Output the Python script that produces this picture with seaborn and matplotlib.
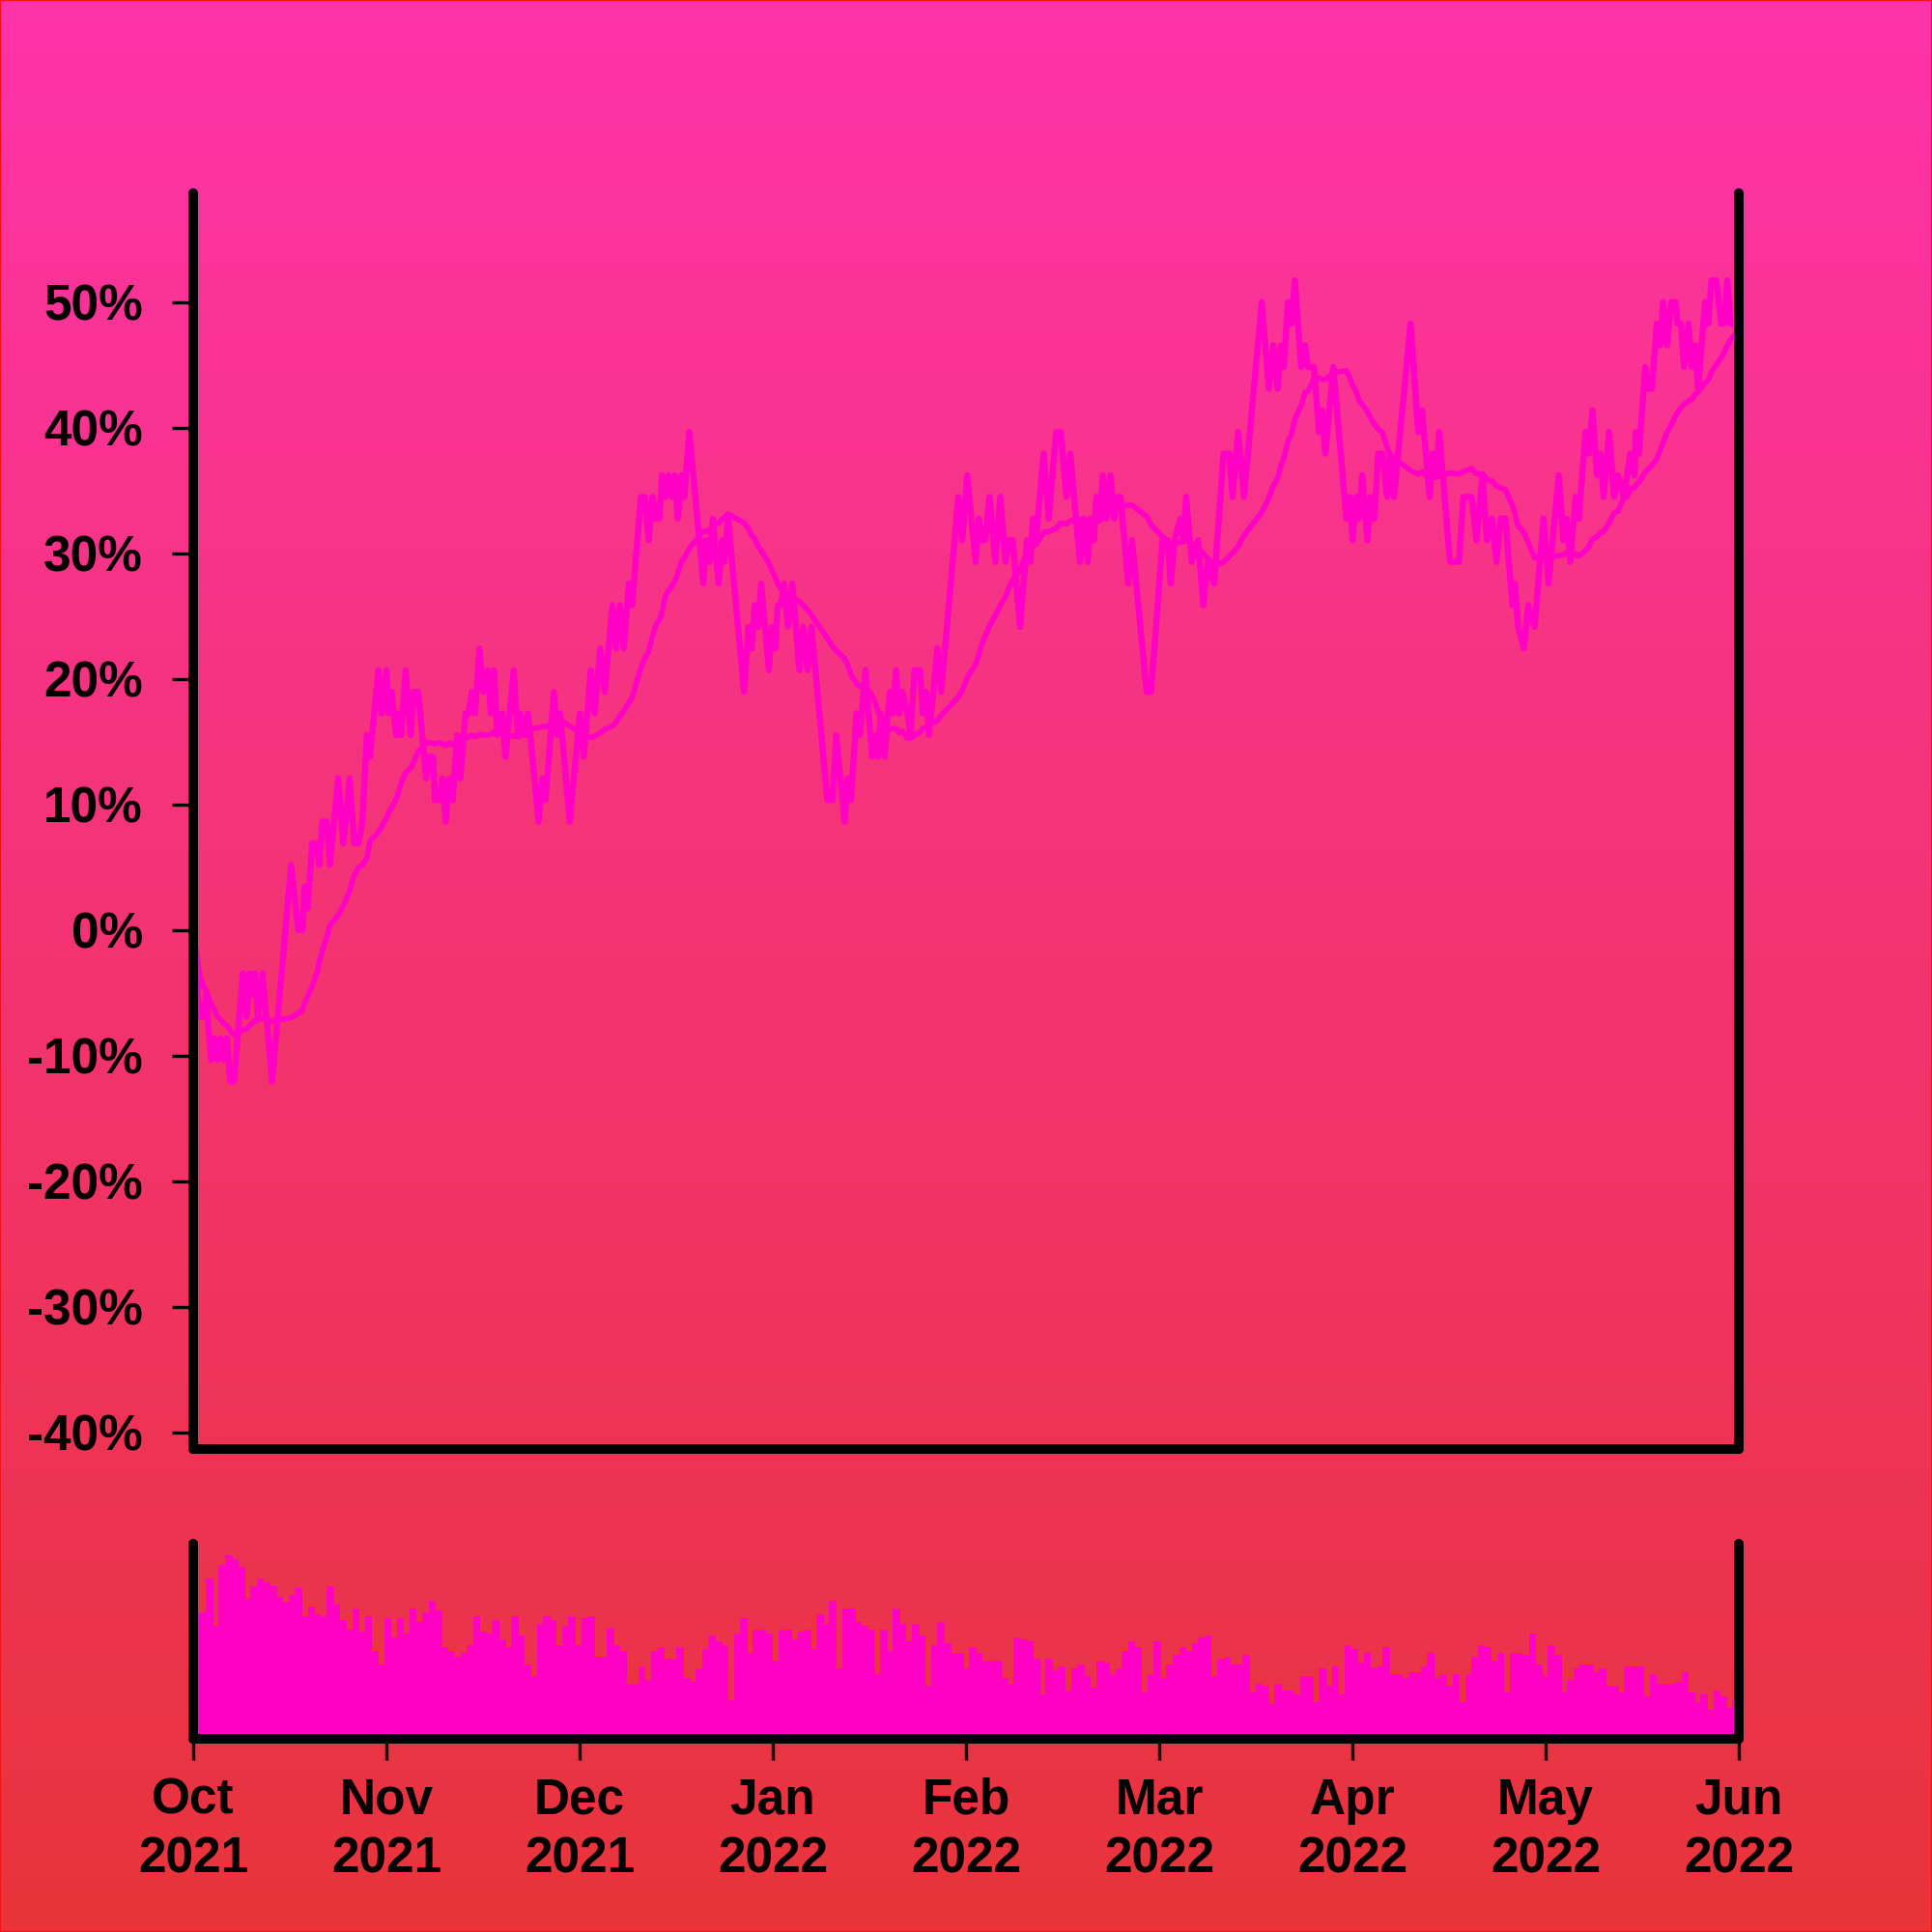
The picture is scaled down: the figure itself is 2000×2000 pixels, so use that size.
import numpy as np
import pandas as pd
import matplotlib
matplotlib.use("Agg")
import matplotlib.pyplot as plt
import seaborn as sns
from matplotlib.colors import LinearSegmentedColormap
from matplotlib.patches import Rectangle

# price path: day offset from 2021-10-01 and price step above the opening price
day = [0, 1.0, 1.7, 2.0, 2.8, 3.3, 3.8, 4.3, 4.8, 5.3, 5.8, 6.4, 7.8, 8.4, 8.9, 9.3, 9.7, 10.2, 10.9, 12.4,
       15.4, 16.5, 17.2, 17.5, 18.0, 18.7, 19.5, 19.8, 20.3, 21.0, 21.5, 22.8, 23.6, 24.6, 25.3, 26.0, 26.6, 27.3, 27.8, 29.1,
       29.6, 30.4, 30.7, 31.2, 31.9, 32.4, 32.7, 33.4, 34.2, 34.7, 35.4, 35.7, 36.6, 37.1, 37.7, 38.0, 38.7, 39.2, 39.7, 40.3,
       40.8, 41.5, 42.0, 42.8, 43.3, 43.8, 44.3, 45.0, 45.6, 46.3, 46.8, 47.3, 47.8, 48.6, 49.1, 50.4, 51.0, 51.4, 52.2, 52.6,
       53.0, 54.3, 54.9, 55.4, 56.7, 57.2, 57.7, 59.2, 60.8, 61.4,
       62.5, 63.1, 64.0, 64.7, 65.9, 66.5, 67.1, 67.7, 68.5, 69.0, 70.4, 71.0, 71.6, 72.2, 72.7, 73.3, 73.7, 74.2, 74.7, 75.2,
       75.7, 76.2, 76.8, 77.2, 78.0, 80.2, 80.6, 81.2, 81.7, 82.6, 83.2, 83.5, 84.1, 86.6, 87.3, 87.8, 88.3, 88.8, 89.3, 90.5,
       91.0, 91.5, 91.9, 92.4, 92.9, 93.5, 94.2, 95.3, 95.9, 96.6, 97.2, 99.7, 100.5, 101.1, 102.4, 102.9, 103.4, 104.3, 104.8, 105.7,
       106.7, 107.2, 107.6, 108.1, 108.7, 109.5, 110.0, 110.5, 111.0, 111.5, 112.3, 112.8, 113.4, 114.3, 114.7, 115.2, 115.7, 117.0, 117.6, 120.3,
       120.9, 121.7,
       123.0, 123.5, 124.0, 124.5, 125.2, 126.1, 126.9, 127.7, 128.3, 128.85, 130.0, 131.1, 131.6, 132.0, 132.5, 133.7, 134.5, 135.7, 136.4, 137.3,
       137.9, 139.4, 140.0, 140.65, 141.1, 141.6, 142.0, 142.5, 143.0, 143.6, 144.2, 144.8, 145.3, 145.8, 147.0, 147.6, 149.9, 150.6, 152.4, 153.2,
       153.7, 154.3, 155.2, 155.7, 156.1, 157.0, 158.0, 158.8, 159.5, 160.5, 162.0, 162.9, 163.4, 164.3, 165.2, 168.0, 169.1, 169.8, 170.5, 171.0,
       171.5, 172.1, 172.65, 173.2, 174.2, 174.8, 175.3, 176.2, 177.0, 177.5, 178.0, 179.25, 181.3, 181.8, 182.3, 182.8,
       183.3, 183.8, 184.6, 185.1, 185.7, 186.3, 187.0, 187.7, 188.2, 188.8, 191.4, 192.6, 193.2, 194.4, 194.9, 195.4, 195.9, 197.6, 199.0, 199.7,
       201.0, 201.75, 202.7, 203.4, 204.2, 204.9, 205.55, 206.3, 207.4, 207.8, 208.3, 209.2, 209.9, 210.9, 212.3, 213.1, 214.7, 215.4, 215.9, 216.5,
       217.35, 217.85, 218.9, 219.4, 220.0, 220.7, 221.25, 221.75, 222.6, 223.4, 224.0, 224.9, 225.45, 225.95, 226.6, 226.8, 227.3, 228.3, 228.8, 229.35,
       230.1, 230.6, 231.1, 231.7, 232.4, 233.05, 233.4, 233.9, 234.4, 235.1, 235.6, 236.1, 236.6, 237.7, 238.2, 238.7, 239.5, 240.2, 240.7, 241.2,
       241.7, 243.0]
step = [0, -4, -4, -3, -6, -5, -6, -5, -6, -5, -7, -7, -2, -4, -2, -3, -2, -4, -2, -7,
        3, 0, 0, 2, 1, 4, 4, 3, 5, 5, 3, 7, 4, 7, 4, 4, 5, 9, 8, 12,
        10, 12, 10, 11, 9, 10, 9, 12, 9, 11, 11, 10, 7, 8, 8, 6, 6, 7, 5, 7,
        6, 9, 7, 10, 10, 11, 10, 13, 11, 12, 10, 12, 9, 10, 8, 12, 9, 10, 9, 10,
        9, 5, 7, 6, 11, 9, 10, 5, 10, 8,
        12, 10, 13, 11, 15, 13, 15, 13, 16, 15, 20, 20, 18, 20, 19, 19, 21, 20, 21, 20,
        21, 19, 21, 20, 23, 16, 18, 17, 19, 16, 18, 17, 19, 11, 14, 13, 15, 14, 16, 12,
        14, 13, 15, 15, 16, 14, 16, 12, 14, 12, 14, 6, 6, 9, 5, 7, 6, 10, 9, 12,
        8, 9, 8, 10, 8, 11, 10, 12, 10, 11, 10, 9, 12, 12, 10, 11, 9, 13, 11, 20,
        18, 21,
        17, 19, 18, 18, 20, 17, 20, 17, 18, 18, 14, 18, 17, 19, 18, 22, 19, 23, 23, 20,
        22, 17, 19, 17, 19, 18, 20, 19, 21, 19, 21, 19, 20, 20, 16, 18, 11, 11, 18, 18,
        16, 18, 19, 18, 20, 17, 18, 15, 17, 16, 22, 22, 20, 23, 20, 29, 25, 27, 25, 27,
        26, 29, 28, 30, 26, 27, 26, 26, 23, 24, 22, 26, 19, 20, 18, 20,
        19, 21, 18, 20, 19, 22, 22, 20, 22, 20, 28, 23, 24, 20, 22, 21, 23, 17, 17, 20,
        20, 18, 21, 18, 19, 17, 19, 19, 15, 16, 14, 13, 15, 14, 19, 16, 21, 18, 19, 17,
        20, 19, 23, 22, 24, 21, 22, 20, 23, 20, 21, 20, 21, 22, 21, 23, 22, 26, 25, 25,
        28, 27, 29, 27, 29, 29, 28, 28, 26, 28, 26, 27, 25, 29, 28, 30, 30, 28, 28, 30,
        28, 28]
open_price = 58

# daily volume, relative to the panel height
volume = [65, 65, 82, 58, 89, 94, 92, 88, 72, 78,
          82, 80, 78, 73, 70, 74, 77, 63, 68, 64,
          63, 78, 69, 61, 56, 67, 55, 63, 45, 38,
          62, 52, 62, 54, 67, 60, 65, 71, 66, 47,
          45, 42, 44, 48, 63, 55, 54, 61, 51, 47,
          63, 53, 38, 32, 59, 63, 61, 48, 58, 63,
          48, 62, 63, 42, 42, 57, 48, 45, 28, 28,
          37, 30, 45, 47, 41, 41, 47, 31, 29, 36,
          46, 53, 50, 48, 20, 54, 62, 44, 56, 56,
          54, 40, 56, 56, 51, 55, 56, 46, 64, 59,
          71, 36, 67, 67, 60, 58, 56, 33, 56, 45,
          67, 59, 50, 59, 53, 27, 48, 60, 49, 44,
          44, 36, 47, 44, 40, 40, 40, 31, 28, 52,
          51, 50, 41, 23, 41, 35, 37, 25, 36, 38,
          32, 26, 40, 39, 33, 36, 45, 50, 47, 24,
          33, 50, 31, 38, 43, 47, 45, 49, 52, 53,
          32, 41, 42, 38, 38, 43, 24, 28, 27, 18,
          28, 25, 25, 23, 32, 32, 19, 36, 27, 37,
          23, 48, 46, 39, 44, 36, 37, 47, 33, 33,
          31, 34, 34, 37, 44, 31, 33, 27, 33, 19,
          33, 42, 48, 47, 40, 44, 24, 44, 44, 43,
          54, 38, 32, 48, 43, 24, 30, 36, 38, 38,
          34, 36, 27, 27, 24, 37, 37, 37, 22, 33,
          28, 28, 28, 29, 34, 24, 19, 23, 15, 25,
          22, 16, 20]

month_labels = ["Oct\n2021", "Nov\n2021", "Dec\n2021", "Jan\n2022", "Feb\n2022",
                "Mar\n2022", "Apr\n2022", "May\n2022", "Jun\n2022"]
pct_ticks = [-40, -30, -20, -10, 0, 10, 20, 30, 40, 50]

sns.set_theme(style="white")
plt.rcParams['font.family'] = ['Liberation Sans', 'DejaVu Sans']
plt.rcParams['font.weight'] = 'bold'
plt.rcParams['lines.solid_joinstyle'] = 'round'
plt.rcParams['lines.solid_capstyle'] = 'round'

pink = "#ff00c4"

df = pd.DataFrame({"day": day, "price": open_price + np.array(step)})
df["pct"] = (df["price"] / open_price - 1) * 100
stamp = pd.Timestamp("2021-10-01") + pd.to_timedelta(df["day"], unit="D")
df["ma"] = df.set_index(stamp)["pct"].rolling("15D", min_periods=1).mean().values

vol = pd.DataFrame({"day": np.arange(len(volume)) + 0.5, "volume": volume})

fig = plt.figure(figsize=(20, 20), dpi=100)

# gradient background
bg = fig.add_axes([0, 0, 1, 1], zorder=-10)
grad = np.linspace(0, 1, 512)[:, None]
bg.imshow(grad, aspect="auto", cmap=LinearSegmentedColormap.from_list("bg", ["#fe33a9", "#e9343a"]),
          extent=[0, 1, 0, 1])
bg.axis("off")
fig.patches.append(Rectangle((0, 0), 1, 1, transform=fig.transFigure, fill=False,
                             edgecolor="#ff1010", linewidth=1.5))

ax = fig.add_axes([0.1, 0.25, 0.8, 0.65])
vx = fig.add_axes([0.1, 0.1, 0.8, 0.101])
for a in (ax, vx):
    a.patch.set_alpha(0)

# ----------------------------
# price and moving average
# ----------------------------
sns.lineplot(data=df, x="day", y="pct", ax=ax, color=pink, estimator=None, sort=False, linewidth=4.6)
sns.lineplot(data=df, x="day", y="ma", ax=ax, color=pink, estimator=None, sort=False, linewidth=4.0)

ax.set_xlim(0, 243)
ax.set_ylim(-41.33, 58.67)
ax.set_xticks([])
ax.set_yticks(pct_ticks)
ax.set_yticklabels([f"{t}%" for t in pct_ticks])
ax.set_xlabel("")
ax.set_ylabel("")
ax.tick_params(axis="y", left=True, length=15.6, width=2.4, pad=22, labelsize=37,
               color="black", labelcolor="black", direction="out")

# ----------------------------
# volume bars
# ----------------------------
sns.histplot(data=vol, x="day", weights="volume", binwidth=1, binrange=(0, len(volume)), ax=vx,
             color=pink, alpha=1, edgecolor=pink, linewidth=0.6)
vx.set_xlim(0, 243)
vx.set_ylim(0, 100)
vx.set_yticks([])
vx.set_xticks(np.linspace(0, 243, 9))
vx.set_xticklabels(month_labels, linespacing=1.3)
vx.set_xlabel("")
vx.set_ylabel("")
vx.tick_params(axis="x", bottom=True, length=15.6, width=2.4, pad=13, labelsize=37,
               color="black", labelcolor="black", direction="out")

for a in (ax, vx):
    a.spines["top"].set_visible(False)
    for s in ("left", "right", "bottom"):
        a.spines[s].set_visible(True)
        a.spines[s].set_linewidth(7.2)
        a.spines[s].set_color("black")
        a.spines[s].set_capstyle("round")
    a.grid(False)

fig.savefig("out.png", dpi=100)
